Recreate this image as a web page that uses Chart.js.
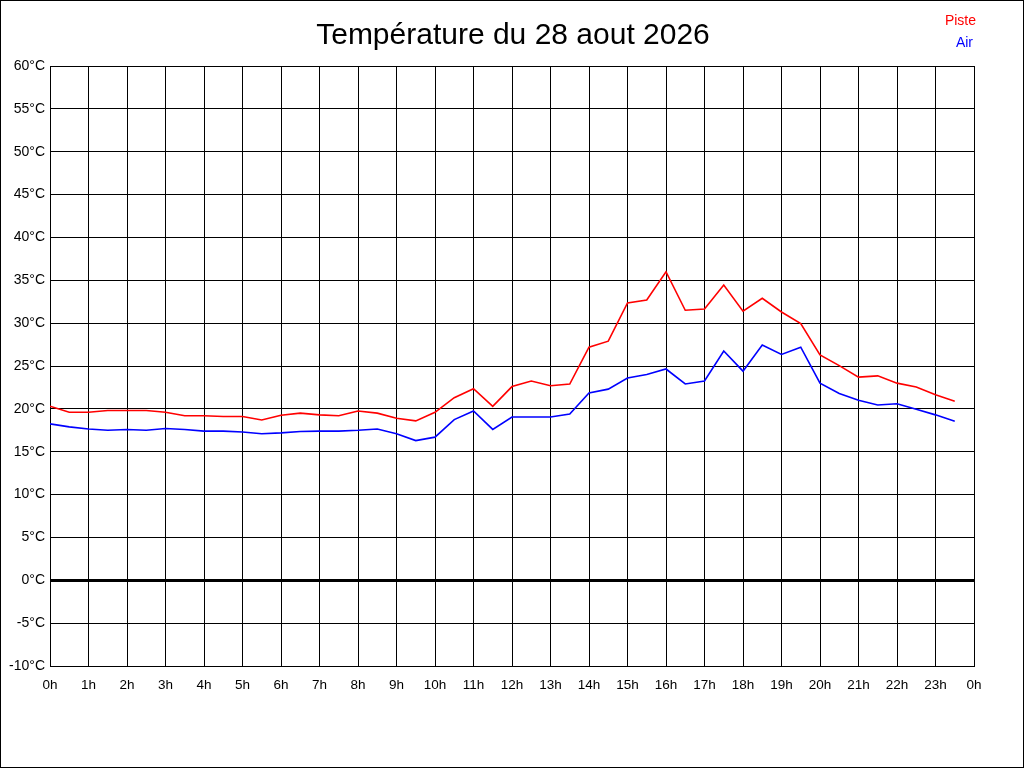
<!DOCTYPE html>
<html>
<head>
<meta charset="utf-8">
<style>
html,body{margin:0;padding:0;background:#fff;}
#wrap{width:1024px;height:768px;position:relative;}
</style>
<script src="https://cdn.jsdelivr.net/npm/chart.js@4/dist/chart.umd.min.js"></script>
</head>
<body>
<div id="wrap"><canvas id="c" width="1024" height="768"></canvas></div>
<script>
const chartTitle = "Température du 28 aout 2026";
const hours = [0,0.5,1,1.5,2,2.5,3,3.5,4,4.5,5,5.5,6,6.5,7,7.5,8,8.5,9,9.5,10,10.5,11,11.5,12,12.5,13,13.5,14,14.5,15,15.5,16,16.5,17,17.5,18,18.5,19,19.5,20,20.5,21,21.5,22,22.5,23,23.5];
const pisteLabel = "Piste";
const airLabel = "Air";
const piste = [20.3,19.6,19.6,19.8,19.8,19.8,19.6,19.2,19.2,19.1,19.1,18.7,19.25,19.5,19.3,19.2,19.75,19.5,18.9,18.6,19.6,21.3,22.35,20.3,22.6,23.25,22.7,22.9,27.2,27.9,32.35,32.7,36.0,31.5,31.65,34.45,31.4,32.9,31.3,29.95,26.3,25.05,23.7,23.85,23.0,22.55,21.65,20.9];
const air = [18.25,17.9,17.65,17.5,17.6,17.5,17.7,17.6,17.4,17.4,17.3,17.1,17.2,17.35,17.4,17.4,17.5,17.65,17.1,16.3,16.7,18.75,19.75,17.6,19.05,19.05,19.05,19.4,21.85,22.3,23.6,24.0,24.65,22.9,23.25,26.75,24.4,27.45,26.35,27.2,23.0,21.8,21.0,20.45,20.6,19.95,19.3,18.55];
const yMin = -10, yMax = 60, yStep = 5;
const xMin = 0, xMax = 24, xStep = 1;

const FONT = "'Liberation Sans', Arial, sans-serif";

const decor = {
  id: 'decor',
  afterDraw(chart) {
    const ctx = chart.ctx;
    ctx.save();
    ctx.strokeStyle = '#000';
    ctx.lineWidth = 1;
    ctx.strokeRect(0.5, 0.5, 1023, 767);
    ctx.fillStyle = '#000';
    ctx.font = "30px " + FONT;
    ctx.textAlign = 'center';
    ctx.textBaseline = 'middle';
    ctx.fillText(chartTitle, 513, 36);
    ctx.font = "14px " + FONT;
    ctx.textAlign = 'right';
    const legendPos = [[976, 21], [973, 43]];
    chart.data.datasets.forEach((ds, i) => {
      ctx.fillStyle = ds.borderColor;
      ctx.fillText(ds.label, legendPos[i][0], legendPos[i][1]);
    });
    ctx.restore();
  }
};

new Chart(document.getElementById('c'), {
  type: 'line',
  data: {
    datasets: [
      { label: pisteLabel, data: hours.map((h, i) => ({x: h, y: piste[i]})), borderColor: '#ff0000', borderWidth: 1.6, pointRadius: 0, tension: 0, fill: false },
      { label: airLabel, data: hours.map((h, i) => ({x: h, y: air[i]})), borderColor: '#0000ff', borderWidth: 1.6, pointRadius: 0, tension: 0, fill: false }
    ]
  },
  options: {
    responsive: false,
    animation: false,
    devicePixelRatio: 1,
    layout: { padding: { top: 66, left: 0, right: 50, bottom: 0 } },
    plugins: { legend: { display: false }, title: { display: false }, tooltip: { enabled: false } },
    scales: {
      x: {
        type: 'linear', min: xMin, max: xMax,
        afterFit(s) { s.height = 102; },
        grid: { color: '#000', lineWidth: 1, drawTicks: false },
        border: { color: '#000', width: 1 },
        ticks: { stepSize: xStep, padding: 11, color: '#000', font: { family: FONT, size: 13.5 }, maxRotation: 0, autoSkip: false,
          callback: v => (v % 24) + 'h' }
      },
      y: {
        min: yMin, max: yMax,
        afterFit(s) { s.width = 50; },
        grid: { color: '#000', lineWidth: c => (c.tick && c.tick.value === 0) ? 3 : 1, drawTicks: false },
        border: { color: '#000', width: 1 },
        ticks: { stepSize: yStep, padding: 5, color: '#000', font: { family: FONT, size: 14 },
          callback: v => v + '°C' }
      }
    }
  },
  plugins: [decor]
});
</script>
</body>
</html>
